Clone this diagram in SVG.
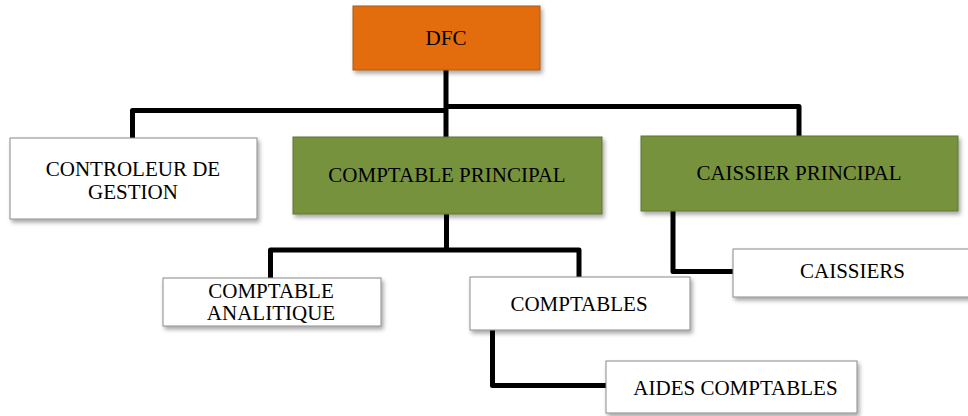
<svg xmlns="http://www.w3.org/2000/svg" width="968" height="416" viewBox="0 0 968 416">
  <defs>
    <filter id="shadow" x="-10%" y="-20%" width="125%" height="150%">
      <feDropShadow dx="2" dy="3" stdDeviation="2" flood-color="#000" flood-opacity="0.35"/>
    </filter>
  </defs>
  <style>
    .box { stroke: #8a8a8a; stroke-width: 1; filter: url(#shadow); }
    .white { fill: #ffffff; }
    .green { fill: #76923c; stroke: #5f7531; }
    .orange { fill: #e36c0a; stroke: #a65a1c; }
    .label { font-family: "Liberation Serif", "Times New Roman", serif; font-size: 21px; fill: #000; text-anchor: middle; }
    .link { fill: none; stroke: #000; stroke-width: 5; stroke-linejoin: round; }
  </style>

  <!-- connectors -->
  <g id="connectors">
    <path class="link" d="M446 70 V138"/>
    <path class="link" d="M132.5 138 V110.5 H446"/>
    <path class="link" d="M446 106.5 H799 V136"/>
    <path class="link" d="M446.5 214 V250"/>
    <path class="link" d="M270.5 278 V250 H579 V277"/>
    <path class="link" d="M673 211 V271.5 H733"/>
    <path class="link" d="M492.5 330 V385.5 H606"/>
  </g>

  <!-- nodes -->
  <g id="dfc">
    <rect class="box orange" x="353" y="6" width="187" height="64"/>
    <text class="label" x="446" y="45">DFC</text>
  </g>
  <g id="controleur-gestion">
    <rect class="box white" x="10" y="138" width="247" height="81"/>
    <text class="label" x="133" y="176">CONTROLEUR DE</text>
    <text class="label" x="133" y="199">GESTION</text>
  </g>
  <g id="comptable-principal">
    <rect class="box green" x="293" y="137" width="309" height="77"/>
    <text class="label" x="447" y="182">COMPTABLE PRINCIPAL</text>
  </g>
  <g id="caissier-principal">
    <rect class="box green" x="641" y="136" width="317" height="75"/>
    <text class="label" x="799" y="180">CAISSIER PRINCIPAL</text>
  </g>
  <g id="comptable-analitique">
    <rect class="box white" x="163" y="278" width="218" height="48"/>
    <text class="label" x="271" y="298">COMPTABLE</text>
    <text class="label" x="271" y="320">ANALITIQUE</text>
  </g>
  <g id="comptables">
    <rect class="box white" x="470" y="277" width="220" height="53"/>
    <text class="label" x="579" y="310.5">COMPTABLES</text>
  </g>
  <g id="caissiers">
    <rect class="box white" x="733" y="249" width="240" height="48"/>
    <text class="label" x="852.5" y="278">CAISSIERS</text>
  </g>
  <g id="aides-comptables">
    <rect class="box white" x="606" y="361" width="251" height="52"/>
    <text class="label" x="735.5" y="395">AIDES COMPTABLES</text>
  </g>
</svg>
